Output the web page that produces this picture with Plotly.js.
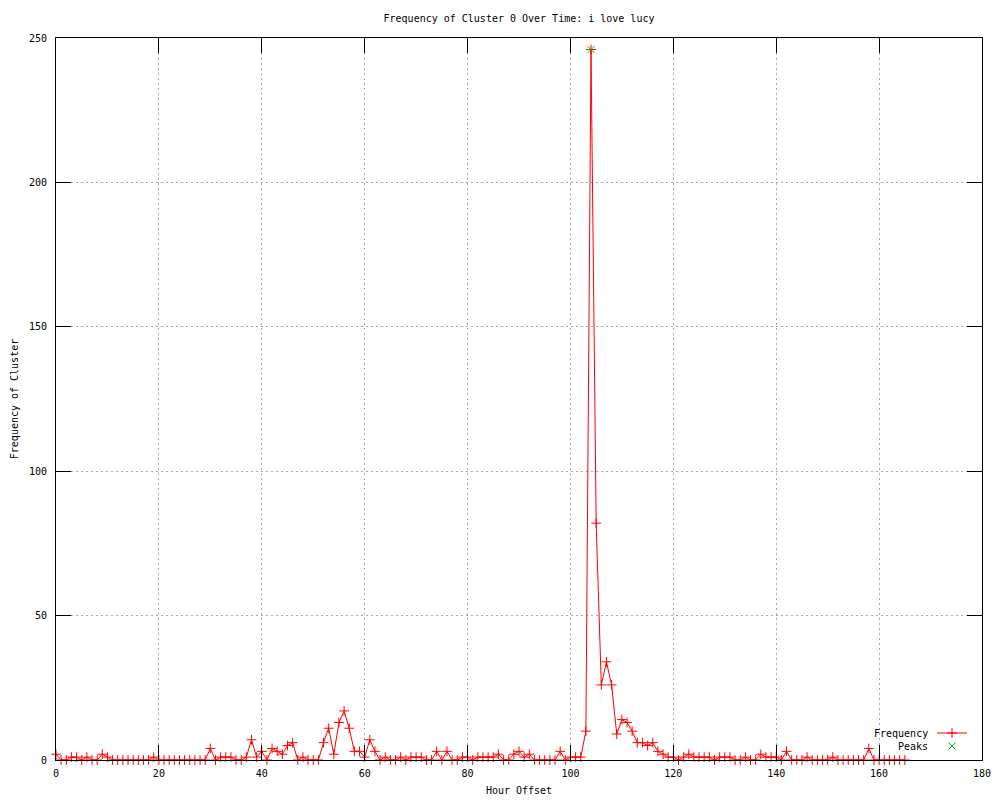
<!DOCTYPE html>
<html>
<head>
<meta charset="utf-8">
<script src="https://cdn.plot.ly/plotly-3.0.1.min.js"></script>
<style>html,body{margin:0;padding:0;background:#fff;}#chart{width:1000px;height:800px;}</style>
</head>
<body>
<div id="chart"></div>
<script>
const hours = [0,1,2,3,4,5,6,7,8,9,10,11,12,13,14,15,16,17,18,19,20,21,22,23,24,25,26,27,28,29,
30,31,32,33,34,35,36,37,38,39,40,41,42,43,44,45,46,47,48,49,50,51,52,53,54,55,56,57,58,59,
60,61,62,63,64,65,66,67,68,69,70,71,72,73,74,75,76,77,78,79,80,81,82,83,84,85,86,87,88,89,
90,91,92,93,94,95,96,97,98,99,100,101,102,103,104,105,106,107,108,109,110,111,112,113,114,115,116,117,118,119,
120,121,122,123,124,125,126,127,128,129,130,131,132,133,134,135,136,137,138,139,140,141,142,143,144,145,146,147,148,149,
150,151,152,153,154,155,156,157,158,159,160,161,162,163,164,165];
const frequency = [2,0,0,1,1,0,1,0,0,2,1,0,0,0,0,0,0,0,0,1,0,0,0,0,0,0,0,0,0,0,
4,0,1,1,1,0,0,1,7,1,3,0,4,3,2,5,6,0,1,0,0,0,6,11,2,13,17,11,3,3,
1,7,3,0,1,0,0,1,0,1,1,1,0,0,3,0,3,0,0,1,1,0,1,1,1,1,2,0,0,2,
3,1,2,0,0,0,0,0,3,0,1,1,1,10,246,82,26,34,26,9,14,13,10,6,6,5,6,3,2,1,
1,0,1,2,1,1,1,1,0,1,1,1,0,0,1,0,0,2,1,1,1,0,3,0,0,0,1,0,0,0,
0,1,0,0,0,0,0,0,4,0,0,0,0,0,0,0];
const peakHours = [104];
const peakValues = [246];
const seriesNames = ['Frequency', 'Peaks'];
const xTicks = [0,20,40,60,80,100,120,140,160,180];
const yTicks = [0,50,100,150,200,250];

const L = 56, R = 982, T = 38, B = 760;
const px = v => (v - L) / (R - L);
const py = v => (B - v) / (B - T);

const font = {family: 'DejaVu Sans Mono, monospace', size: 10, color: '#000'};

const traces = [
  {
    x: hours, y: frequency, type: 'scatter', mode: 'lines+markers',
    name: '', legend: 'legend',
    line: {color: '#ff0000', width: 1},
    marker: {symbol: 'cross-thin-open', size: 7, color: '#ff0000', line: {color: '#ff0000', width: 1}},
    cliponaxis: false, hoverinfo: 'x+y'
  },
  {
    x: peakHours, y: peakValues, type: 'scatter', mode: 'markers',
    name: '', legend: 'legend2',
    marker: {symbol: 'x-thin-open', size: 7, color: '#00c000', line: {color: '#00c000', width: 1}},
    cliponaxis: false, hoverinfo: 'x+y'
  }
];

const axisCommon = {
  showline: true, linecolor: '#000', linewidth: 1, mirror: 'allticks',
  ticks: 'inside', ticklen: 15, tickwidth: 1, tickcolor: '#000',
  showgrid: true, gridcolor: '#a8a8a8', griddash: '2px,3px', gridwidth: 1,
  zeroline: false, tickfont: font, fixedrange: true
};

const layout = {
  width: 1000, height: 800,
  margin: {l: L, r: 1000 - R, t: T, b: 800 - B},
  paper_bgcolor: '#fff', plot_bgcolor: '#fff',
  font: font,
  title: {text: 'Frequency of Cluster 0 Over Time: i love lucy', font: font, x: 0.5, xref: 'paper', y: 1 - 18/800, yanchor: 'middle'},
  xaxis: Object.assign({}, axisCommon, {
    range: [0, 180], tickmode: 'array', tickvals: xTicks, ticktext: xTicks.map(String),
    ticklabelstandoff: 4,
    title: {text: 'Hour Offset', font: font, standoff: 8}
  }),
  yaxis: Object.assign({}, axisCommon, {
    range: [0, 250], tickmode: 'array', tickvals: yTicks, ticktext: yTicks.map(String),
    ticklabelstandoff: 6,
    title: {text: 'Frequency of Cluster', font: font, standoff: 8}
  }),
  showlegend: true,
  legend: {x: px(932), xanchor: 'left', y: py(733), yanchor: 'middle', bgcolor: 'rgba(0,0,0,0)', borderwidth: 0, font: font, itemclick: false, itemdoubleclick: false},
  legend2: {x: px(932), xanchor: 'left', y: py(746), yanchor: 'middle', bgcolor: 'rgba(0,0,0,0)', borderwidth: 0, font: font, itemclick: false, itemdoubleclick: false},
  annotations: [
    {text: seriesNames[0], xref: 'paper', yref: 'paper', x: px(930), y: py(733), xanchor: 'right', yanchor: 'middle', showarrow: false, font: font},
    {text: seriesNames[1], xref: 'paper', yref: 'paper', x: px(930), y: py(746), xanchor: 'right', yanchor: 'middle', showarrow: false, font: font}
  ]
};

Plotly.newPlot('chart', traces, layout, {displayModeBar: false, staticPlot: true});
</script>
</body>
</html>
